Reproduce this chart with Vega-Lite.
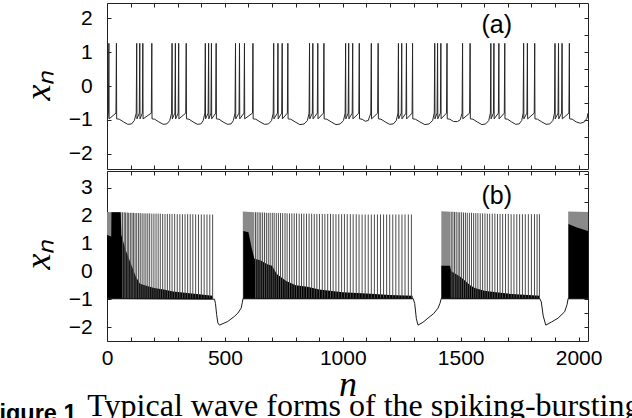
{
"$schema": "https://vega.github.io/schema/vega-lite/v6.json",
"background": "white",
"padding": {"left": -15, "top": 2, "right": 0, "bottom": 0},
"spacing": 0,
"config": {
  "view": {"stroke": "#222", "strokeWidth": 1},
  "axis": {"domain": false, "grid": false, "ticks": true, "tickColor": "#222", "tickSize": -4, "tickWidth": 1, "labelFont": "Liberation Sans", "labelFontSize": 21, "labelColor": "black", "labelFlush": false, "labelOverlap": false, "titleFont": "Liberation Serif", "titleFontStyle": "italic", "titleFontWeight": "normal", "titleFontSize": 36, "titleColor": "black"}
},
"title": {"text": "Figure 1", "orient": "bottom", "anchor": "start", "frame": "bounds", "dx": -34.7, "font": "Liberation Sans", "fontWeight": "bold", "fontSize": 23.5, "color": "black", "offset": -21},
"datasets": {
"a": [{"n":0,"v":-0.7},{"n":3,"v":-0.95},{"n":6,"v":-0.8},{"n":8,"v":1.26},{"n":9,"v":-0.97},
{"n":38,"v":-0.8},{"n":40,"v":1.26},{"n":41,"v":-0.97},
{"n":52,"v":-0.98},{"n":70,"v":-1.06},{"n":88,"v":-1.13},{"n":104,"v":-1.12},{"n":116,"v":-1.02},
{"n":124,"v":-0.8},{"n":126,"v":1.26},{"n":127,"v":-0.97},
{"n":137,"v":-0.8},{"n":139,"v":1.26},{"n":140,"v":-0.97},
{"n":150,"v":-0.8},{"n":152,"v":1.26},{"n":153,"v":-0.97},
{"n":188,"v":-0.8},{"n":190,"v":1.26},{"n":191,"v":-0.97},
{"n":202,"v":-0.98},{"n":220,"v":-1.06},{"n":238,"v":-1.13},{"n":254,"v":-1.12},{"n":266,"v":-1.02},
{"n":274,"v":-0.8},{"n":276,"v":1.26},{"n":277,"v":-0.97},
{"n":288,"v":-0.8},{"n":290,"v":1.26},{"n":291,"v":-0.97},
{"n":302,"v":-0.8},{"n":304,"v":1.26},{"n":305,"v":-0.97},
{"n":334,"v":-0.8},{"n":336,"v":1.26},{"n":337,"v":-0.97},
{"n":348,"v":-0.98},{"n":365,"v":-1.06},{"n":383,"v":-1.13},{"n":398,"v":-1.12},{"n":408,"v":-1.02},
{"n":415,"v":-0.8},{"n":417,"v":1.26},{"n":418,"v":-0.97},
{"n":429,"v":-0.8},{"n":431,"v":1.26},{"n":432,"v":-0.97},
{"n":441,"v":-0.8},{"n":443,"v":1.26},{"n":444,"v":-0.97},
{"n":461,"v":-0.8},{"n":463,"v":1.26},{"n":464,"v":-0.97},
{"n":475,"v":-0.98},{"n":492,"v":-1.06},{"n":510,"v":-1.13},{"n":526,"v":-1.12},{"n":536,"v":-1.02},
{"n":543,"v":-0.8},{"n":545,"v":1.26},{"n":546,"v":-0.97},
{"n":560,"v":-0.8},{"n":562,"v":1.26},{"n":563,"v":-0.97},
{"n":581,"v":-0.8},{"n":583,"v":1.26},{"n":584,"v":-0.97},
{"n":617,"v":-0.8},{"n":619,"v":1.26},{"n":620,"v":-0.97},
{"n":631,"v":-0.98},{"n":649,"v":-1.06},{"n":668,"v":-1.13},{"n":685,"v":-1.12},{"n":698,"v":-1.02},
{"n":705,"v":-0.8},{"n":707,"v":1.26},{"n":708,"v":-0.97},
{"n":723,"v":-0.8},{"n":725,"v":1.26},{"n":726,"v":-0.97},
{"n":741,"v":-0.8},{"n":743,"v":1.26},{"n":744,"v":-0.97},
{"n":765,"v":-0.8},{"n":767,"v":1.26},{"n":768,"v":-0.97},
{"n":779,"v":-0.98},{"n":798,"v":-1.06},{"n":818,"v":-1.14},{"n":836,"v":-1.12},{"n":850,"v":-1.02},
{"n":857,"v":-0.8},{"n":859,"v":1.26},{"n":860,"v":-0.97},
{"n":871,"v":-0.8},{"n":873,"v":1.26},{"n":874,"v":-0.97},
{"n":892,"v":-0.8},{"n":894,"v":1.26},{"n":895,"v":-0.97},
{"n":918,"v":-0.8},{"n":920,"v":1.26},{"n":921,"v":-0.97},
{"n":932,"v":-0.98},{"n":951,"v":-1.06},{"n":971,"v":-1.14},{"n":989,"v":-1.12},{"n":1003,"v":-1.02},
{"n":1010,"v":-0.8},{"n":1012,"v":1.26},{"n":1013,"v":-0.97},
{"n":1023,"v":-0.8},{"n":1025,"v":1.26},{"n":1026,"v":-0.97},
{"n":1040,"v":-0.8},{"n":1042,"v":1.26},{"n":1043,"v":-0.97},
{"n":1068,"v":-0.8},{"n":1070,"v":1.26},{"n":1071,"v":-0.97},
{"n":1082,"v":-0.98},{"n":1095,"v":-1.04},{"n":1108,"v":-1.02},
{"n":1119,"v":-0.8},{"n":1121,"v":1.26},{"n":1122,"v":-0.97},
{"n":1148,"v":-0.8},{"n":1150,"v":1.26},{"n":1151,"v":-0.97},
{"n":1162,"v":-0.98},{"n":1180,"v":-1.06},{"n":1198,"v":-1.13},{"n":1214,"v":-1.12},{"n":1227,"v":-1.02},
{"n":1234,"v":-0.8},{"n":1236,"v":1.26},{"n":1237,"v":-0.97},
{"n":1248,"v":-0.8},{"n":1250,"v":1.26},{"n":1251,"v":-0.97},
{"n":1268,"v":-0.8},{"n":1270,"v":1.26},{"n":1271,"v":-0.97},
{"n":1294,"v":-0.8},{"n":1296,"v":1.26},{"n":1297,"v":-0.97},
{"n":1308,"v":-0.98},{"n":1327,"v":-1.06},{"n":1348,"v":-1.14},{"n":1366,"v":-1.12},{"n":1381,"v":-1.02},
{"n":1388,"v":-0.8},{"n":1390,"v":1.26},{"n":1391,"v":-0.97},
{"n":1400,"v":-0.8},{"n":1402,"v":1.26},{"n":1403,"v":-0.97},
{"n":1414,"v":-0.8},{"n":1416,"v":1.26},{"n":1417,"v":-0.97},
{"n":1440,"v":-0.8},{"n":1442,"v":1.26},{"n":1443,"v":-0.97},
{"n":1454,"v":-0.98},{"n":1470,"v":-1.05},{"n":1486,"v":-1.05},{"n":1498,"v":-1.0},
{"n":1506,"v":-0.8},{"n":1508,"v":1.26},{"n":1509,"v":-0.97},
{"n":1538,"v":-0.8},{"n":1540,"v":1.26},{"n":1541,"v":-0.97},
{"n":1552,"v":-0.98},{"n":1570,"v":-1.06},{"n":1590,"v":-1.14},{"n":1606,"v":-1.12},{"n":1619,"v":-1.02},
{"n":1626,"v":-0.8},{"n":1628,"v":1.26},{"n":1629,"v":-0.97},
{"n":1639,"v":-0.8},{"n":1641,"v":1.26},{"n":1642,"v":-0.97},
{"n":1660,"v":-0.8},{"n":1662,"v":1.26},{"n":1663,"v":-0.97},
{"n":1685,"v":-0.8},{"n":1687,"v":1.26},{"n":1688,"v":-0.97},
{"n":1699,"v":-0.98},{"n":1716,"v":-1.06},{"n":1733,"v":-1.13},{"n":1748,"v":-1.12},{"n":1759,"v":-1.02},
{"n":1765,"v":-0.8},{"n":1767,"v":1.26},{"n":1768,"v":-0.97},
{"n":1781,"v":-0.8},{"n":1783,"v":1.26},{"n":1784,"v":-0.97},
{"n":1812,"v":-0.8},{"n":1814,"v":1.26},{"n":1815,"v":-0.97},
{"n":1826,"v":-0.98},{"n":1844,"v":-1.06},{"n":1862,"v":-1.13},{"n":1878,"v":-1.12},{"n":1891,"v":-1.02},
{"n":1898,"v":-0.8},{"n":1900,"v":1.26},{"n":1901,"v":-0.97},
{"n":1913,"v":-0.8},{"n":1915,"v":1.26},{"n":1916,"v":-0.97},
{"n":1928,"v":-0.8},{"n":1930,"v":1.26},{"n":1931,"v":-0.97},
{"n":1959,"v":-0.8},{"n":1961,"v":1.26},{"n":1962,"v":-0.97},
{"n":1973,"v":-0.98},{"n":1990,"v":-1.06},{"n":2008,"v":-1.1},{"n":2025,"v":-1.06},{"n":2036,"v":-0.95},{"n":2040,"v":-0.8}],
"bgrey": [{"g":1,"n":0,"hi":2.13},{"g":1,"n":62,"hi":2.12},{"g":2,"n":576,"hi":2.15},{"g":2,"n":625,"hi":2.12},{"g":3,"n":1418,"hi":2.16},{"g":3,"n":1456,"hi":2.14},{"g":4,"n":1956,"hi":2.15},{"g":4,"n":2040,"hi":2.13}],
"bblack": [{"g":1,"n":0,"hi":1.3},{"g":1,"n":18,"hi":1.25},{"g":1,"n":19,"hi":2.12},{"g":1,"n":58,"hi":2.12},{"g":1,"n":61,"hi":1.3},{"g":1,"n":80,"hi":0.75},{"g":1,"n":102,"hi":0.25},{"g":1,"n":123,"hi":-0.2},{"g":1,"n":140,"hi":-0.45},{"g":1,"n":160,"hi":-0.5},{"g":1,"n":200,"hi":-0.6},{"g":1,"n":240,"hi":-0.65},{"g":1,"n":280,"hi":-0.72},{"g":1,"n":340,"hi":-0.78},{"g":1,"n":400,"hi":-0.83},{"g":1,"n":448,"hi":-0.88},
{"g":2,"n":578,"hi":1.45},{"g":2,"n":600,"hi":1.4},{"g":2,"n":612,"hi":0.9},{"g":2,"n":625,"hi":0.45},{"g":2,"n":650,"hi":0.4},{"g":2,"n":680,"hi":0.25},{"g":2,"n":700,"hi":0.2},{"g":2,"n":720,"hi":-0.1},{"g":2,"n":760,"hi":-0.35},{"g":2,"n":800,"hi":-0.5},{"g":2,"n":850,"hi":-0.55},{"g":2,"n":900,"hi":-0.65},{"g":2,"n":1000,"hi":-0.75},{"g":2,"n":1100,"hi":-0.8},{"g":2,"n":1200,"hi":-0.85},{"g":2,"n":1296,"hi":-0.88},
{"g":3,"n":1418,"hi":0.2},{"g":3,"n":1455,"hi":0.2},{"g":3,"n":1460,"hi":0.0},{"g":3,"n":1480,"hi":-0.1},{"g":3,"n":1500,"hi":-0.2},{"g":3,"n":1520,"hi":-0.35},{"g":3,"n":1540,"hi":-0.5},{"g":3,"n":1560,"hi":-0.6},{"g":3,"n":1600,"hi":-0.7},{"g":3,"n":1650,"hi":-0.75},{"g":3,"n":1700,"hi":-0.8},{"g":3,"n":1835,"hi":-0.88},
{"g":4,"n":1957,"hi":1.7},{"g":4,"n":1990,"hi":1.58},{"g":4,"n":2040,"hi":1.45}],
"bspk": [{"n":66,"t":2.12},{"n":73,"t":2.12},{"n":79,"t":2.11},{"n":86,"t":2.11},{"n":92,"t":2.1},{"n":99,"t":2.1},{"n":106,"t":2.1},{"n":112,"t":2.1},{"n":119,"t":2.09},{"n":126,"t":2.09},{"n":134,"t":2.09},{"n":141,"t":2.09},{"n":149,"t":2.08},{"n":157,"t":2.08},{"n":165,"t":2.08},{"n":173,"t":2.08},{"n":181,"t":2.08},{"n":190,"t":2.07},{"n":199,"t":2.07},{"n":208,"t":2.07},{"n":217,"t":2.07},{"n":226,"t":2.07},{"n":236,"t":2.06},{"n":246,"t":2.06},{"n":256,"t":2.06},{"n":266,"t":2.06},{"n":276,"t":2.06},{"n":287,"t":2.06},{"n":298,"t":2.05},{"n":309,"t":2.05},{"n":320,"t":2.05},{"n":331,"t":2.05},{"n":342,"t":2.05},{"n":353,"t":2.05},{"n":364,"t":2.05},{"n":376,"t":2.04},{"n":388,"t":2.04},{"n":400,"t":2.04},{"n":412,"t":2.04},{"n":424,"t":2.04},{"n":436,"t":2.04},{"n":448,"t":2.04},
{"n":630,"t":2.12},{"n":637,"t":2.12},{"n":645,"t":2.12},{"n":652,"t":2.11},{"n":660,"t":2.11},{"n":668,"t":2.11},{"n":676,"t":2.1},{"n":684,"t":2.1},{"n":692,"t":2.1},{"n":701,"t":2.1},{"n":709,"t":2.1},{"n":718,"t":2.09},{"n":727,"t":2.09},{"n":736,"t":2.09},{"n":745,"t":2.09},{"n":755,"t":2.09},{"n":764,"t":2.08},{"n":774,"t":2.08},{"n":784,"t":2.08},{"n":794,"t":2.08},{"n":804,"t":2.08},{"n":815,"t":2.07},{"n":825,"t":2.07},{"n":835,"t":2.07},{"n":846,"t":2.07},{"n":857,"t":2.07},{"n":868,"t":2.07},{"n":879,"t":2.06},{"n":890,"t":2.06},{"n":901,"t":2.06},{"n":913,"t":2.06},{"n":924,"t":2.06},{"n":936,"t":2.06},{"n":948,"t":2.06},{"n":959,"t":2.05},{"n":971,"t":2.05},{"n":983,"t":2.05},{"n":995,"t":2.05},{"n":1007,"t":2.05},{"n":1019,"t":2.05},{"n":1032,"t":2.05},{"n":1044,"t":2.05},{"n":1057,"t":2.05},{"n":1069,"t":2.04},{"n":1082,"t":2.04},{"n":1095,"t":2.04},{"n":1108,"t":2.04},{"n":1121,"t":2.04},{"n":1134,"t":2.04},{"n":1147,"t":2.04},{"n":1160,"t":2.04},{"n":1173,"t":2.04},{"n":1186,"t":2.04},{"n":1199,"t":2.04},{"n":1212,"t":2.04},{"n":1225,"t":2.04},{"n":1238,"t":2.04},{"n":1251,"t":2.04},{"n":1264,"t":2.04},{"n":1278,"t":2.04},{"n":1291,"t":2.04},
{"n":1460,"t":2.14},{"n":1467,"t":2.14},{"n":1474,"t":2.13},{"n":1481,"t":2.13},{"n":1489,"t":2.12},{"n":1496,"t":2.12},{"n":1504,"t":2.12},{"n":1512,"t":2.11},{"n":1520,"t":2.11},{"n":1528,"t":2.1},{"n":1537,"t":2.1},{"n":1546,"t":2.1},{"n":1555,"t":2.09},{"n":1564,"t":2.09},{"n":1573,"t":2.09},{"n":1583,"t":2.08},{"n":1593,"t":2.08},{"n":1603,"t":2.08},{"n":1613,"t":2.07},{"n":1623,"t":2.07},{"n":1634,"t":2.07},{"n":1645,"t":2.07},{"n":1656,"t":2.06},{"n":1667,"t":2.06},{"n":1678,"t":2.06},{"n":1690,"t":2.06},{"n":1702,"t":2.06},{"n":1714,"t":2.05},{"n":1726,"t":2.05},{"n":1738,"t":2.05},{"n":1750,"t":2.05},{"n":1762,"t":2.05},{"n":1774,"t":2.05},{"n":1787,"t":2.05},{"n":1800,"t":2.05},{"n":1813,"t":2.05},{"n":1824,"t":2.05},{"n":1834,"t":2.05}],
"bline": [{"n":0,"v":-0.97},{"n":456,"v":-1.0},{"n":460,"v":-1.15},{"n":465,"v":-1.55},{"n":470,"v":-1.85},{"n":477,"v":-1.93},{"n":512,"v":-1.8},{"n":540,"v":-1.62},{"n":555,"v":-1.5},{"n":569,"v":-1.32},{"n":574,"v":-1.12},{"n":577,"v":-0.97},{"n":1298,"v":-0.97},{"n":1305,"v":-1.15},{"n":1312,"v":-1.7},{"n":1319,"v":-1.93},{"n":1340,"v":-1.83},{"n":1361,"v":-1.68},{"n":1385,"v":-1.52},{"n":1404,"v":-1.32},{"n":1412,"v":-1.15},{"n":1418,"v":-0.97},{"n":1835,"v":-0.97},{"n":1842,"v":-1.1},{"n":1850,"v":-1.6},{"n":1861,"v":-1.93},{"n":1885,"v":-1.82},{"n":1913,"v":-1.68},{"n":1941,"v":-1.45},{"n":1951,"v":-1.2},{"n":1956,"v":-0.97},{"n":2040,"v":-0.97}]
},
"vconcat": [
{
  "width": 481, "height": 166,
  "layer": [
    {"data": {"name": "a"}, "mark": {"type": "line", "color": "#262626", "strokeWidth": 1, "clip": true},
     "encoding": {
       "x": {"field": "n", "type": "quantitative", "scale": {"domain": [0, 2040], "nice": false, "zero": false},
             "axis": {"orient": "bottom", "values": [0,100,200,300,400,500,600,700,800,900,1000,1100,1200,1300,1400,1500,1600,1700,1800,1900,2000], "labels": false, "title": null}},
       "y": {"field": "v", "type": "quantitative", "scale": {"domain": [-2.45, 2.45], "nice": false, "zero": false},
             "axis": {"orient": "left", "values": [-2,-1.5,-1,-0.5,0,0.5,1,1.5,2], "format": "d", "labelExpr": "datum.value % 1 === 0 ? datum.label : ''", "labelPadding": 18.7, "title": "xₙ", "titleX": -57.7, "titleY": 82, "titleAngle": 270, "titleBaseline": "alphabetic", "titleAlign": "center"}}
     }},
    {"data": {"values": [{"n": 1653, "v": 1.8, "lab": "(a)"}]}, "mark": {"type": "text", "font": "Liberation Sans", "fontSize": 25, "color": "black"},
     "encoding": {
       "x": {"field": "n", "type": "quantitative", "axis": {"orient": "top", "values": [0,100,200,300,400,500,600,700,800,900,1000,1100,1200,1300,1400,1500,1600,1700,1800,1900,2000], "labels": false, "title": null}},
       "y": {"field": "v", "type": "quantitative", "axis": {"orient": "right", "values": [-2,-1.5,-1,-0.5,0,0.5,1,1.5,2], "labels": false, "title": null}},
       "text": {"field": "lab"}
     }}
  ],
  "resolve": {"axis": {"x": "independent", "y": "independent"}}
},
{
  "width": 481, "height": 170,
  "title": {"text": "Typical wave forms of the spiking-bursting activity", "orient": "bottom", "anchor": "start", "frame": "group", "dx": -19.7, "offset": -11, "font": "Liberation Serif", "fontSize": 32, "fontWeight": "normal", "color": "black"},
  "layer": [
    {"data": {"name": "bgrey"}, "mark": {"type": "area", "color": "#8a8a8a", "opacity": 1, "interpolate": "linear"},
     "encoding": {
       "x": {"field": "n", "type": "quantitative", "scale": {"domain": [0, 2040], "nice": false, "zero": false},
             "axis": {"orient": "bottom", "values": [0,100,200,300,400,500,600,700,800,900,1000,1100,1200,1300,1400,1500,1600,1700,1800,1900,2000], "format": "d", "labelExpr": "datum.value % 500 === 0 ? datum.label : ''", "labelPadding": 10.6, "title": "n", "titleY": 54, "titleBaseline": "alphabetic"}},
       "y": {"field": "hi", "type": "quantitative", "scale": {"domain": [-2.5, 3.6], "nice": false, "zero": false},
             "axis": {"orient": "left", "values": [-2,-1.5,-1,-0.5,0,0.5,1,1.5,2,2.5,3,3.5], "format": "d", "labelExpr": "datum.value % 1 === 0 ? datum.label : ''", "labelPadding": 18.7, "title": "xₙ", "titleX": -57.7, "titleY": 83, "titleAngle": 270, "titleBaseline": "alphabetic", "titleAlign": "center"}},
       "y2": {"datum": -0.97},
       "detail": {"field": "g"}
     }},
    {"data": {"name": "bblack"}, "mark": {"type": "area", "color": "#000", "interpolate": "linear"},
     "encoding": {
       "x": {"field": "n", "type": "quantitative", "axis": {"orient": "top", "values": [0,100,200,300,400,500,600,700,800,900,1000,1100,1200,1300,1400,1500,1600,1700,1800,1900,2000], "labels": false, "title": null}},
       "y": {"field": "hi", "type": "quantitative", "axis": {"orient": "right", "values": [-2,-1.5,-1,-0.5,0,0.5,1,1.5,2,2.5,3,3.5], "labels": false, "title": null}},
       "y2": {"datum": -1.0},
       "detail": {"field": "g"}
     }},
    {"data": {"name": "bspk"}, "mark": {"type": "rule", "color": "#4d4d4d", "strokeWidth": 1},
     "encoding": {
       "x": {"field": "n", "type": "quantitative", "axis": null},
       "y": {"field": "t", "type": "quantitative", "axis": null},
       "y2": {"datum": -0.97}
     }},
    {"data": {"name": "bline"}, "mark": {"type": "line", "color": "#1a1a1a", "strokeWidth": 1},
     "encoding": {
       "x": {"field": "n", "type": "quantitative", "axis": null},
       "y": {"field": "v", "type": "quantitative", "axis": null}
     }},
    {"data": {"values": [{"n": 1653, "v": 2.7, "lab": "(b)"}]}, "mark": {"type": "text", "font": "Liberation Sans", "fontSize": 25, "color": "black"},
     "encoding": {
       "x": {"field": "n", "type": "quantitative", "axis": null},
       "y": {"field": "v", "type": "quantitative", "axis": null},
       "text": {"field": "lab"}
     }}
  ],
  "resolve": {"axis": {"x": "independent", "y": "independent"}}
}
]
}
